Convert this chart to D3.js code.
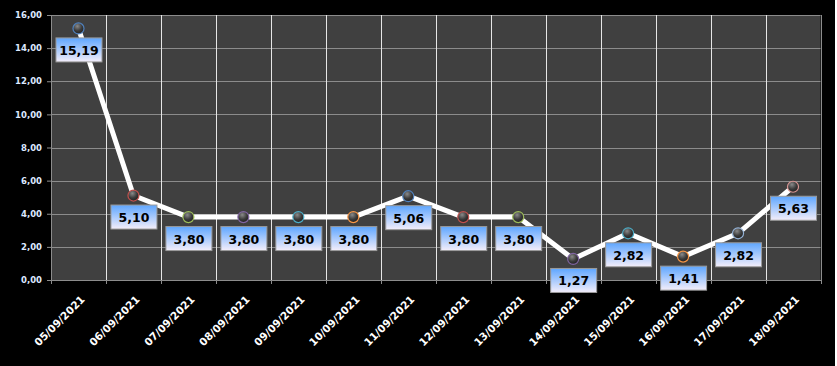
<!DOCTYPE html>
<html>
<head>
<meta charset="utf-8">
<script src="https://cdn.jsdelivr.net/npm/d3@7"></script>
<style>
  body { margin: 0; background: #fff; }
  svg { display: block; }
</style>
</head>
<body>
<div id="chart"></div>
<script>

var dates = ["05/09/2021", "06/09/2021", "07/09/2021", "08/09/2021", "09/09/2021", "10/09/2021", "11/09/2021",
             "12/09/2021", "13/09/2021", "14/09/2021", "15/09/2021", "16/09/2021", "17/09/2021", "18/09/2021"];
var values = [15.19, 5.10, 3.80, 3.80, 3.80, 3.80, 5.06, 3.80, 3.80, 1.27, 2.82, 1.41, 2.82, 5.63];
var yTicks = [0, 2, 4, 6, 8, 10, 12, 14, 16];
var markerColors = ["#4F81BD", "#C0504D", "#9BBB59", "#8064A2", "#4BACC6", "#F79646", "#4F81BD",
                    "#C0504D", "#9BBB59", "#8064A2", "#4BACC6", "#F79646", "#95B3D7", "#D99694"];

var margin = {top: 15, right: 16, bottom: 86, left: 51};
var width = 837;
var height = 366;
var innerW = 820.5 - margin.left;
var innerH = 280 - margin.top;

var fmt = function(v) { return d3.format(".2f")(v).replace(".", ","); };

var svg = d3.select("#chart")
  .append("svg")
  .attr("width", width)
  .attr("height", height);

svg.append("rect")
  .attr("width", 835)
  .attr("height", height)
  .attr("fill", "#000");

var defs = svg.append("defs");
var lg = defs.append("linearGradient")
  .attr("id", "lblgrad")
  .attr("x1", 0).attr("y1", 0).attr("x2", 0).attr("y2", 1);
lg.append("stop").attr("offset", "0%").attr("stop-color", "#5ea6ff");
lg.append("stop").attr("offset", "100%").attr("stop-color", "#f4eefa");

var rg = defs.append("radialGradient")
  .attr("id", "ball")
  .attr("cx", "40%").attr("cy", "30%").attr("r", "70%");
rg.append("stop").attr("offset", "0%").attr("stop-color", "#8a8a8a");
rg.append("stop").attr("offset", "60%").attr("stop-color", "#3a3a3a");
rg.append("stop").attr("offset", "100%").attr("stop-color", "#222");

var g = svg.append("g")
  .attr("transform", "translate(" + margin.left + "," + margin.top + ")");

var xScale = d3.scaleBand()
  .domain(dates)
  .range([0, innerW]);

var yScale = d3.scaleLinear()
  .domain([0, 16])
  .range([innerH, 0]);

g.append("rect")
  .attr("width", innerW)
  .attr("height", innerH)
  .attr("fill", "#404040");

// horizontal grid
g.selectAll(".hgrid")
  .data(yTicks)
  .enter()
  .append("line")
  .attr("x1", 0)
  .attr("x2", innerW)
  .attr("y1", function(d) { return Math.round(yScale(d)) + 0.5; })
  .attr("y2", function(d) { return Math.round(yScale(d)) + 0.5; })
  .attr("stroke", "#8c8c8c")
  .attr("stroke-width", 1);

// vertical grid at category boundaries
var bounds = dates.slice(1).map(function(d) { return xScale(d); }).concat([innerW]);
g.selectAll(".vgrid")
  .data(bounds)
  .enter()
  .append("line")
  .attr("x1", function(d) { return Math.round(d) + 0.5; })
  .attr("x2", function(d) { return Math.round(d) + 0.5; })
  .attr("y1", 0)
  .attr("y2", innerH)
  .attr("stroke", function(d, i) { return i == bounds.length - 1 ? "#8c8c8c" : "#e6e6e6"; })
  .attr("stroke-width", 1);

// y axis
var yAxis = g.append("g")
  .call(d3.axisLeft(yScale).tickValues(yTicks).tickFormat(fmt).tickSize(4).tickPadding(5));
yAxis.select(".domain").attr("stroke", "#8c8c8c");
yAxis.selectAll(".tick line").attr("stroke", "#8c8c8c");
yAxis.selectAll("text")
  .attr("fill", "#dce9ff")
  .style("font-family", "DejaVu Sans")
  .style("font-weight", "bold")
  .style("font-size", "8.5px");

// x axis
var xAxis = g.append("g")
  .attr("transform", "translate(0," + innerH + ")")
  .call(d3.axisBottom(xScale).tickSize(0).tickPadding(0));
xAxis.select(".domain").attr("stroke", "#8c8c8c");
xAxis.selectAll("text")
  .attr("fill", "#fff")
  .attr("text-anchor", "end")
  .attr("dy", 0)
  .attr("transform", "translate(7,20) rotate(-45)")
  .style("font-family", "DejaVu Sans")
  .style("font-weight", "bold")
  .style("font-size", "10.5px");

g.selectAll(".xtick")
  .data([0].concat(bounds))
  .enter()
  .append("line")
  .attr("x1", function(d) { return Math.round(d) + 0.5; })
  .attr("x2", function(d) { return Math.round(d) + 0.5; })
  .attr("y1", innerH)
  .attr("y2", innerH + 4)
  .attr("stroke", "#8c8c8c");

var cx = function(d, i) { return xScale(dates[i]) + xScale.bandwidth() / 2; };

var line = d3.line()
  .x(function(d, i) { return cx(d, i); })
  .y(function(d) { return yScale(d); });

g.append("path")
  .datum(values)
  .attr("d", line)
  .attr("fill", "none")
  .attr("stroke", "#fff")
  .attr("stroke-width", 5)
  .attr("stroke-linejoin", "round");

g.selectAll(".pt")
  .data(values)
  .enter()
  .append("circle")
  .attr("cx", cx)
  .attr("cy", function(d) { return yScale(d); })
  .attr("r", 5.5)
  .attr("fill", "url(#ball)")
  .attr("stroke", function(d, i) { return markerColors[i]; })
  .attr("stroke-width", 1.2);

var lbl = g.selectAll(".lbl")
  .data(values)
  .enter()
  .append("g")
  .attr("transform", function(d, i) {
    return "translate(" + (cx(d, i) + 0.5) + "," + (yScale(d) + 9.5) + ")";
  });

lbl.append("rect")
  .attr("x", -23)
  .attr("y", 0)
  .attr("width", 46)
  .attr("height", 24)
  .attr("fill", "url(#lblgrad)")
  .attr("stroke", "#9a9a9a")
  .attr("stroke-width", 1);

lbl.append("text")
  .attr("x", 0)
  .attr("y", 17)
  .attr("text-anchor", "middle")
  .attr("fill", "#000")
  .style("font-family", "DejaVu Sans")
  .style("font-weight", "bold")
  .style("font-size", "12.5px")
  .text(function(d) { return fmt(d); });

</script>
</body>
</html>
